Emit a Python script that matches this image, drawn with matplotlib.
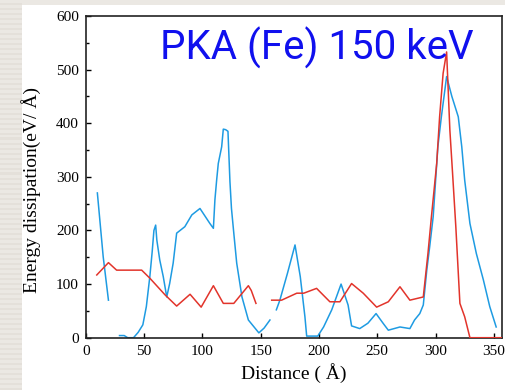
import numpy as np
import matplotlib
matplotlib.use("Agg")
import matplotlib.pyplot as plt
from matplotlib.patches import Rectangle
from matplotlib.ticker import MultipleLocator

nan = np.nan
# Blue series (distance in Å, energy dissipation in eV/Å)
blue_x = [10, 15, 19.5, 24, 29, 33, 36, 41, 45, 49, 52, 55, 57, 58.5, 60, 61, 63.5, 66.5, 69.5,
          72, 75, 78, 85, 91, 98, 106.5, 109.5, 110.8, 112.3, 113.7, 116.6, 118, 120, 122, 123.7,
          125, 127, 129.5, 134, 139.5, 148.5, 153, 158, 160.5, 163.5, 166.5, 173, 179.5, 184, 188,
          189.5, 199, 204, 211, 215, 219, 225, 228, 235, 242, 249, 255, 259.5, 269.5, 278, 282,
          286.5, 289.5, 292.5, 295, 298, 302, 305, 309.5, 314, 319.5, 322.5, 325, 329.5, 335,
          341, 346.5, 352]
blue_y = [270, 151, 70, nan, 4, 4, 0, 0, 10, 24, 58, 114, 160, 200, 210, 182, 145, 114, 76,
          101, 139, 195, 207, 229, 241, 213, 204, 257, 294, 325, 356, 389, 388, 385, 291,
          241, 195, 139, 76, 33, 9, 18, 33, nan, 52, 70, 120, 173, 114, 39,
          3, 3, 20, 52, 76, 100, 61, 22, 17, 27, 45, 27, 14, 20, 17, 33,
          45, 61, 126, 170, 226, 356, 412, 487, 450, 412, 356, 294, 213, 157,
          108, 58, 20]

# Red series
red_x = [9.5, 19.5, 26.5, 48, 55, 68, 78, 89.5, 99, 109.5, 118, 127, 139.5, 142, 146, 152,
         159.5, 168, 181, 187, 198, 209.4, 218, 228, 238, 249.5, 259.5, 269.5, 278, 289.5,
         293.5, 296.5, 301, 303.5, 306.5, 309.5, 312.3, 314.6, 317.4, 320.9, 325, 329.5, 358]
red_y = [117, 140, 126, 126, 111, 80, 59, 81, 57, 97, 64, 64, 97, 88, 64, nan,
         70, 70, 83, 83, 92, 67, 67, 101, 83, 57, 67, 95, 70, 76,
         157, 226, 325, 412, 493, 533, 387, 307, 207, 64, 39, 0, 0]

x_ticks = [0, 50, 100, 150, 200, 250, 300, 350]
y_ticks = [0, 100, 200, 300, 400, 500, 600]

W, H = 506, 390
fig = plt.figure(figsize=(W / 100, H / 100), dpi=100)
fig.patch.set_facecolor("#ebe8e3")
# slide background: striped left margin and white panel
for i in range(0, H, 5):
    fig.patches.append(Rectangle((0, i / H), 22 / W, 2.5 / H, transform=fig.transFigure,
                                 facecolor="#e4e0da", edgecolor="none", zorder=-10))
fig.patches.append(Rectangle((22 / W, 0), 1 - 22 / W, 1 - 5 / H, transform=fig.transFigure,
                             facecolor="white", edgecolor="none", zorder=-10))

ax = fig.add_axes([85.7 / W, 1 - 337.7 / H, (502 - 85.7) / W, (337.7 - 16) / H])
ax.set_facecolor("white")
ax.set_zorder(1)

ax.plot(blue_x, blue_y, color="#1e9be2", lw=1.1, zorder=2)
ax.plot(red_x, red_y, color="#e2342b", lw=1.1, zorder=3)

ax.set_xlim(0, 357)
ax.set_ylim(0, 600)
ax.set_xticks(x_ticks)
ax.set_yticks(y_ticks)
ax.yaxis.set_minor_locator(MultipleLocator(50))
ax.tick_params(axis="both", which="major", direction="in", length=3.5, width=1,
               labelsize=11, colors="black")
ax.tick_params(axis="y", which="minor", direction="in", length=2.5, width=1)
ax.tick_params(axis="y", pad=5)
ax.tick_params(axis="x", pad=5)
for lab in ax.get_xticklabels() + ax.get_yticklabels():
    lab.set_family("Liberation Serif")
for s in ax.spines.values():
    s.set_linewidth(1.2)
    s.set_color("#222222")

ax.set_xlabel("Distance ( Å)", family="Liberation Serif", fontsize=14, labelpad=4)
fig.text(31 / W, 1 - 190 / H, "Energy dissipation(eV/ Å)", rotation=90,
         family="Liberation Serif", fontsize=14, ha="center", va="center", zorder=2)

fig.text(160 / W, 1 - 60 / H, "PKA (Fe) 150 keV", family="Roboto", fontsize=29,
         color="#1010ee", ha="left", va="baseline", zorder=5)

fig.savefig("out.png", dpi=100, facecolor=fig.get_facecolor())
